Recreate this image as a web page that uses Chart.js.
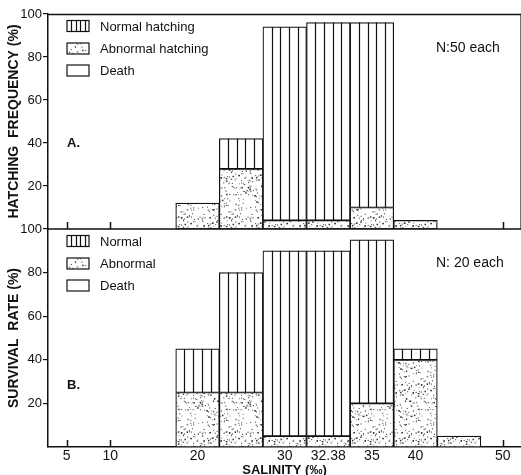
<!DOCTYPE html>
<html>
<head>
<meta charset="utf-8">
<script src="https://cdn.jsdelivr.net/npm/chart.js@4.4.1/dist/chart.umd.min.js"></script>
<style>
  html, body { margin: 0; padding: 0; background: #fff; overflow: hidden; }
  #wrap { position: relative; width: 521px; height: 475px; overflow: hidden; background: #fff; }
  canvas { position: absolute; left: 0; }
  #chartA { top: 0; }
  #chartB { top: 215px; }
</style>
</head>
<body>
<div id="wrap">
  <canvas id="chartA" width="521" height="240"></canvas>
  <canvas id="chartB" width="521" height="263"></canvas>
</div>
<script>
// salinity classes (one bin each) and the labels printed under the axis
const salinity = ['5', '10', '15', '20', '25', '30', '32.38', '35', '40', '45', '50'];
const xTickLabels = ['5', '10', '', '20', '', '30', '32.38', '35', '40', '', '50'];
const xTickMarks = ['5', '10', '50'];
const yTicks = [20, 40, 60, 80, 100];

// A. hatching frequency (%), N = 50 each
const hatchNormal = [null, null, null, 0, 14, 90, 92, 86, 0, null, null];
const hatchAbnormal = [null, null, null, 12, 28, 4, 4, 10, 4, null, null];
const hatchDeath = [null, null, null, 88, 58, 6, 4, 4, 96, null, null];

// B. survival rate (%), N = 20 each
const survNormal = [null, null, null, 20, 55, 85, 85, 75, 5, 0, null];
const survAbnormal = [null, null, null, 25, 25, 5, 5, 20, 40, 5, null];
const survDeath = [null, null, null, 55, 20, 10, 10, 5, 55, 95, null];

const INK = '#111';
Chart.defaults.font.family = "'Liberation Sans', Arial, sans-serif";
Chart.defaults.font.size = 13;
Chart.defaults.color = INK;

// dotted texture for the "abnormal" bars
function makeStipple() {
  const c = document.createElement('canvas');
  c.width = 48; c.height = 48;
  const g = c.getContext('2d');
  g.fillStyle = '#fff';
  g.fillRect(0, 0, 48, 48);
  for (let i = 0; i < 190; i++) {
    const h1 = Math.sin(i * 12.9898 + 1.3) * 43758.5453;
    const h2 = Math.sin(i * 78.233 + 4.1) * 24634.6345;
    const px = (h1 - Math.floor(h1)) * 48;
    const py = (h2 - Math.floor(h2)) * 48;
    const sz = i % 5 === 0 ? 1.5 : 1;
    g.fillStyle = i % 3 === 0 ? 'rgba(0,0,0,0.5)' : 'rgba(0,0,0,0.8)';
    g.fillRect(px, py, sz, sz);
  }
  return g.createPattern(c, 'repeat');
}
const stipple = makeStipple();

function toPoints(arr) {
  return arr.map((v, i) => ({ x: i, y: v }));
}

// vertical lines inside the "normal" bars, 5 strips per bin
const hatchLines = {
  id: 'hatchLines',
  afterDatasetsDraw(chart) {
    const meta = chart.getDatasetMeta(1);
    const ctx = chart.ctx;
    ctx.save();
    ctx.strokeStyle = INK;
    ctx.lineWidth = 1.2;
    meta.data.forEach(el => {
      const p = el.getProps(['x', 'y', 'base', 'width'], true);
      if (isNaN(p.y) || Math.abs(p.base - p.y) < 1) return;
      const left = p.x - p.width / 2;
      ctx.beginPath();
      for (let k = 1; k < 5; k++) {
        const lx = Math.round(left + k * p.width / 5) + 0.5;
        ctx.moveTo(lx, p.y);
        ctx.lineTo(lx, p.base);
      }
      ctx.stroke();
    });
    ctx.restore();
  }
};

// legend, frame, notes
const decor = {
  id: 'decor',
  afterDraw(chart, args, opts) {
    const ctx = chart.ctx;
    const a = chart.chartArea;
    const xs = chart.scales.x;
    ctx.save();
    ctx.strokeStyle = INK;
    ctx.lineWidth = 1.5;
    ctx.beginPath();
    if (opts.frame) {
      ctx.moveTo(a.left, a.top + 0.5);
      ctx.lineTo(a.right, a.top + 0.5);
      ctx.moveTo(a.left, a.bottom);
      ctx.lineTo(a.right, a.bottom);
    }
    xTickMarks.forEach(t => {
      const px = Math.round(xs.getPixelForValue(salinity.indexOf(t))) + 0.5;
      ctx.moveTo(px, a.bottom);
      ctx.lineTo(px, a.bottom - 7);
    });
    ctx.stroke();
    if (opts.frame) {
      ctx.lineWidth = 1;
      ctx.strokeStyle = 'rgba(0,0,0,0.55)';
      ctx.beginPath();
      ctx.moveTo(520.5, a.top);
      ctx.lineTo(520.5, a.bottom);
      ctx.stroke();
    }

    // legend
    const order = [1, 0, 2];
    const rows = [12, 34.5, 56.5];
    ctx.font = "13px 'Liberation Sans', Arial, sans-serif";
    ctx.textBaseline = 'middle';
    ctx.textAlign = 'left';
    order.forEach((di, r) => {
      const ds = chart.data.datasets[di];
      const y = a.top + rows[r];
      const sx = a.left + 19, sw = 22, sh = 11;
      ctx.fillStyle = di === 0 ? stipple : '#fff';
      ctx.fillRect(sx, y - sh / 2, sw, sh);
      ctx.strokeStyle = INK;
      ctx.lineWidth = 1.2;
      ctx.strokeRect(sx, y - sh / 2, sw, sh);
      if (di === 1) {
        ctx.beginPath();
        for (let k = 1; k < 5; k++) {
          const lx = Math.round(sx + k * sw / 5) + 0.5;
          ctx.moveTo(lx, y - sh / 2);
          ctx.lineTo(lx, y + sh / 2);
        }
        ctx.stroke();
      }
      ctx.fillStyle = INK;
      ctx.fillText(ds.label, a.left + 52, y + 1);
    });

    ctx.font = "14px 'Liberation Sans', Arial, sans-serif";
    ctx.fillText(opts.note, 436, a.top + 34);
    ctx.font = "bold 13px 'Liberation Sans', Arial, sans-serif";
    ctx.fillText(opts.panel, a.left + 19, a.top + opts.panelY);
    ctx.restore();
  }
};

function makeChart(id, cfg) {
  return new Chart(document.getElementById(id), {
    type: 'bar',
    data: {
      datasets: [
        { label: cfg.labels[1], data: toPoints(cfg.abnormal), backgroundColor: stipple },
        { label: cfg.labels[0], data: toPoints(cfg.normal), backgroundColor: '#fff' },
        { label: cfg.labels[2], data: toPoints(cfg.death), backgroundColor: 'rgba(255,255,255,0)', borderWidth: 0 }
      ]
    },
    options: {
      responsive: false,
      animation: false,
      layout: { padding: { top: 14, bottom: cfg.padBottom, left: 0, right: 0 } },
      datasets: {
        bar: {
          barPercentage: 1,
          categoryPercentage: 1,
          borderColor: INK,
          borderWidth: 1.2,
          borderSkipped: false
        }
      },
      plugins: {
        legend: { display: false },
        tooltip: { enabled: false },
        decor: { frame: cfg.frame, note: cfg.note, panel: cfg.panel, panelY: cfg.panelY }
      },
      scales: {
        x: {
          type: 'linear',
          stacked: true,
          offset: false,
          min: -0.43,
          max: 10.42,
          display: cfg.showX,
          afterBuildTicks: s => { s.ticks = salinity.map((_, i) => ({ value: i })); },
          ticks: {
            autoSkip: false,
            maxRotation: 0,
            padding: 1,
            font: { size: 14 },
            callback: v => xTickLabels[v] ?? ''
          },
          grid: { offset: false, drawOnChartArea: false, drawTicks: false, color: 'rgba(0,0,0,0)' },
          border: { display: true, color: INK, width: 1.5 },
          title: {
            display: true,
            text: 'SALINITY (‰)',
            font: { size: 13, weight: 'bold' },
            padding: { top: 0, bottom: 0 }
          },
          afterFit: s => { s.height = cfg.showX ? 31 : 0; }
        },
        y: {
          stacked: true,
          min: 0,
          max: 100,
          afterBuildTicks: s => { s.ticks = yTicks.map(v => ({ value: v })); },
          ticks: { padding: 1, font: { size: 13 } },
          grid: { drawOnChartArea: false, drawTicks: true, tickLength: 5, color: INK, lineWidth: 1.2 },
          border: { color: INK, width: 1.5 },
          title: {
            display: true,
            text: cfg.yTitle,
            font: { size: 14, weight: 'bold' },
            padding: { top: 6, bottom: 0 }
          },
          afterFit: s => { s.width = 48; }
        }
      }
    },
    plugins: [hatchLines, decor]
  });
}

makeChart('chartA', {
  labels: ['Normal hatching', 'Abnormal hatching', 'Death'],
  normal: hatchNormal, abnormal: hatchAbnormal, death: hatchDeath,
  yTitle: 'HATCHING  FREQUENCY (%)',
  note: 'N:50 each', panel: 'A.', panelY: 129,
  frame: true, showX: false, padBottom: 11
});

makeChart('chartB', {
  labels: ['Normal', 'Abnormal', 'Death'],
  normal: survNormal, abnormal: survAbnormal, death: survDeath,
  yTitle: 'SURVIVAL  RATE (%)',
  note: 'N: 20 each', panel: 'B.', panelY: 156,
  frame: false, showX: true, padBottom: 0
});
</script>
</body>
</html>
